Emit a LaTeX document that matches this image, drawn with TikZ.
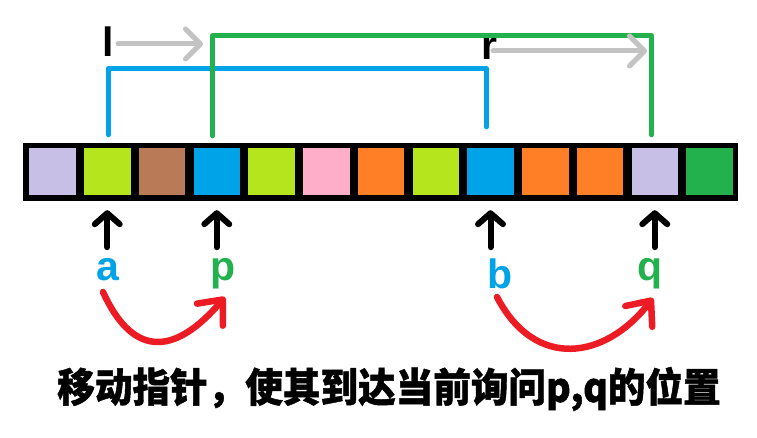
\documentclass[tikz,border=0pt]{standalone}
\usepackage{fontspec}
\setmainfont{Liberation Sans}
\newfontfamily\cjk{Noto Sans CJK SC}[BoldFeatures={FakeBold=1.2}]
\usepackage{xcolor}
\usepackage{tikz}
\usetikzlibrary{arrows.meta}
\definecolor{lav}{HTML}{C8BFE7}
\definecolor{lime}{HTML}{B5E61D}
\definecolor{brn}{HTML}{B97A57}
\definecolor{sky}{HTML}{00A2E8}
\definecolor{rose}{HTML}{FFAEC9}
\definecolor{orng}{HTML}{FF7F27}
\definecolor{grn}{HTML}{22B14C}
\definecolor{redd}{HTML}{ED1C24}
\definecolor{gry}{HTML}{C3C3C3}
\tikzset{
  cell/.style={minimum width=46.5pt, minimum height=47pt, inner sep=0pt},
  bline/.style={draw=sky, line width=5pt, line cap=round, line join=round},
  gline/.style={draw=grn, line width=5pt, line cap=round, line join=round},
  move/.style={draw=gry, line width=5pt, line cap=round, -{Straight Barb[length=15pt,width=30pt,round]}},
  ptr/.style={draw=black, line width=6pt, line cap=round, -{Straight Barb[length=11pt,width=25pt,round]}},
  jump/.style={draw=redd, line width=6.5pt, line cap=round, -{Straight Barb[length=20pt,width=34pt,round]}},
  big/.style={font=\fontsize{41}{48}\selectfont\bfseries, inner sep=0pt, anchor=base},
}

\begin{document}
\begin{tikzpicture}[x=1pt,y=-1pt]
  \useasboundingbox (0,0) rectangle (757,438);
  \fill[black] (23,143) rectangle (738,201);
  \foreach \col [count=\i] in {lav,lime,brn,sky,lime,rose,orng,lime,sky,orng,orng,lav,grn}
    \node[cell, fill=\col] (c\i) at ({52.5+(\i-1)*54.75},171.5) {};

  % l and r
  \node[big] (l) at (108,57) {l};
  \node[big] (r) at (489,60) {r};

  % ranges
  \draw[bline] ([xshift=1pt,yshift=13pt]c2.north) -- ++(0,-66) -| ([xshift=-4pt,yshift=21pt]c9.north);
  \draw[gline] ([xshift=-4pt,yshift=12pt]c4.north) -- ++(0,-100) -| ([xshift=-3pt,yshift=13pt]c12.north);

  \coordinate (l2) at (203,44);
  \coordinate (r2) at (647,51);
  \draw[move] (118,44) -- (l2);
  \draw[move] (493,51) -- (r2);

  % pointers
  \foreach \k in {2,4,9,12}
    \draw[ptr] ([yshift=-52pt]c\k.south) -- ([yshift=-15pt]c\k.south);
  \node[big, text=sky] (a) at (108,280) {a};
  \node[big, text=grn] (p) at (223,280) {p};
  \node[big, text=sky] (b) at (500,288) {b};
  \node[big, text=grn] (q) at (650,280) {q};

  \draw[jump] ([shift={(-5,12)}]a.base) .. controls +(32,70) and +(-47,55) .. ([shift={(2,17)}]p.base);
  \draw[jump] ([shift={(-3,9)}]b.base) .. controls +(38,73) and +(-48,62) .. ([shift={(3,18)}]q.base);

  \node[inner sep=0pt] (txt) at (389,389)
    {\scalebox{0.94}[1]{\cjk\bfseries\fontsize{40}{48}\selectfont 移动指针，使其到达当前询问p,q的位置}};
\end{tikzpicture}
\end{document}
